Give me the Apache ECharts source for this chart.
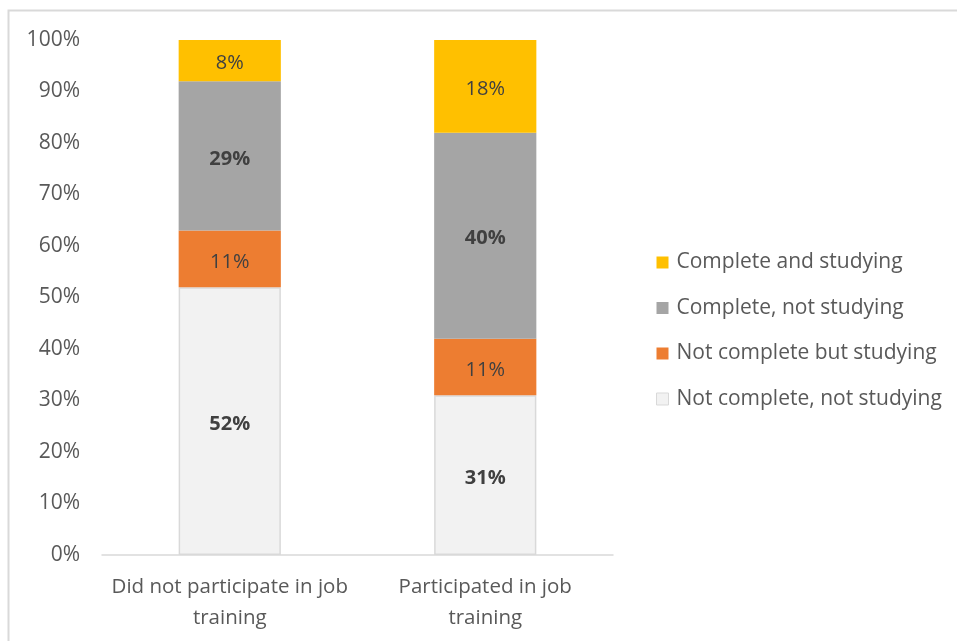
<!DOCTYPE html>
<html>
<head>
<meta charset="utf-8">
<script src="https://cdn.jsdelivr.net/npm/echarts@6/dist/echarts.min.js"></script>
<style>
  html, body { margin: 0; padding: 0; background: #fff; }
  #chart { width: 957px; height: 641px; }
</style>
</head>
<body>
<div id="chart"></div>
<script>
// Outcome shares (percent) by job-training participation
const categories = ['Did not participate in job\ntraining', 'Participated in job\ntraining'];
const notCompleteNotStudying = [52, 31];
const notCompleteButStudying = [11, 11];
const completeNotStudying = [29, 40];
const completeAndStudying = [8, 18];
const yTicks = [0, 10, 20, 30, 40, 50, 60, 70, 80, 90, 100];

const FONT = '"Open Sans", Lato, sans-serif';
const AXIS_TEXT = '#595959';

function stackSeries(name, data, color, bold, border) {
  return {
    name: name,
    type: 'bar',
    stack: 'total',
    barWidth: '40%',
    data: data,
    itemStyle: {
      color: color,
      borderColor: border || color,
      borderWidth: border ? 1.5 : 0
    },
    label: {
      show: true,
      position: 'inside',
      offset: [0, 3],
      formatter: p => p.value + '%',
      color: '#404040',
      fontFamily: FONT,
      fontSize: 20,
      fontWeight: bold ? 'bold' : 'normal'
    },
    emphasis: { disabled: true }
  };
}

const chart = echarts.init(document.getElementById('chart'), null, { renderer: 'canvas' });
chart.setOption({
  animation: false,
  backgroundColor: '#fff',
  graphic: [{
    type: 'rect',
    shape: { x: 8.5, y: 10.5, width: 960, height: 640 },
    style: { fill: 'none', stroke: '#d9d9d9', lineWidth: 2 },
    silent: true,
    z: -1
  }],
  grid: { left: 102, right: 344, top: 40, bottom: 86, containLabel: false },
  xAxis: {
    type: 'category',
    data: categories,
    axisLine: { show: true, lineStyle: { color: '#d9d9d9', width: 1.5 } },
    axisTick: { show: false },
    axisLabel: {
      color: AXIS_TEXT,
      fontFamily: FONT,
      fontSize: 20.5,
      lineHeight: 31,
      margin: 17,
      interval: 0
    }
  },
  yAxis: {
    type: 'value',
    min: yTicks[0],
    max: yTicks[yTicks.length - 1],
    interval: 10,
    axisLine: { show: false },
    axisTick: { show: false },
    splitLine: { show: false },
    axisLabel: {
      color: AXIS_TEXT,
      fontFamily: FONT,
      fontSize: 21,
      margin: 22,
      formatter: v => v + '%'
    }
  },
  legend: {
    orient: 'vertical',
    left: 651,
    top: 247,
    itemWidth: 12,
    itemHeight: 12,
    itemGap: 24.5,
    icon: 'rect',
    textStyle: { color: AXIS_TEXT, fontFamily: FONT, fontSize: 21, padding: [0, 0, 0, 3] },
    data: [
      'Complete and studying',
      'Complete, not studying',
      'Not complete but studying',
      { name: 'Not complete, not studying', itemStyle: { borderColor: '#d9d9d9', borderWidth: 1 } }
    ]
  },
  series: [
    stackSeries('Not complete, not studying', notCompleteNotStudying, '#f2f2f2', true, '#d9d9d9'),
    stackSeries('Not complete but studying', notCompleteButStudying, '#ed7d31', false),
    stackSeries('Complete, not studying', completeNotStudying, '#a5a5a5', true),
    stackSeries('Complete and studying', completeAndStudying, '#ffc000', false)
  ]
});
</script>
</body>
</html>
